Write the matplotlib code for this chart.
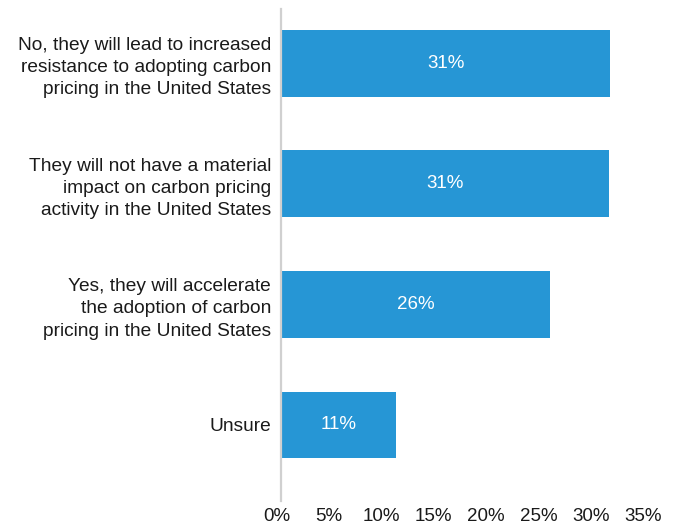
import matplotlib.pyplot as plt
import matplotlib.transforms as mtransforms

categories = [
    'No, they will lead to increased\nresistance to adopting carbon\npricing in the United States',
    'They will not have a material\nimpact on carbon pricing\nactivity in the United States',
    'Yes, they will accelerate\nthe adoption of carbon\npricing in the United States',
    'Unsure',
]
values = [31.5, 31.4, 25.7, 11.0]
value_labels = ['31%', '31%', '26%', '11%']
x_ticks = [0, 5, 10, 15, 20, 25, 30, 35]

plt.rcParams['font.family'] = ['Liberation Sans', 'DejaVu Sans']

fig = plt.figure(figsize=(6.79, 5.24), dpi=100)
ax = fig.add_axes([0.4138, 0.044, 0.539, 0.939])

pos = list(range(len(categories)))
bars = ax.barh(pos, values, height=0.555, color='#2696d5')

for b, lab in zip(bars, value_labels):
    ax.text(b.get_width() / 2, b.get_y() + b.get_height() / 2, lab,
            ha='center', va='center', color='white', fontsize=13.5)

ax.set_yticks(pos)
ax.set_yticklabels(categories, fontsize=13.8, color='#1a1a1a', linespacing=1.4)
ax.set_ylim(3.63, -0.45)
ax.set_xlim(0, 35)
ax.set_xticks(x_ticks)
ax.set_xticklabels([f'{t}%' for t in x_ticks], fontsize=13.5, color='#1a1a1a')
ax.tick_params(axis='both', length=0)
ax.tick_params(axis='y', pad=7)
ax.tick_params(axis='x', pad=5)

# shift x tick labels slightly left like the original
offset = mtransforms.ScaledTranslation(-4 / 100, 0, fig.dpi_scale_trans)
for lbl in ax.get_xticklabels():
    lbl.set_transform(lbl.get_transform() + offset)

for s in ['top', 'right', 'bottom']:
    ax.spines[s].set_visible(False)
ax.spines['left'].set_color('#d0d0d0')
ax.spines['left'].set_linewidth(1.6)

fig.savefig('out.png', dpi=100)
